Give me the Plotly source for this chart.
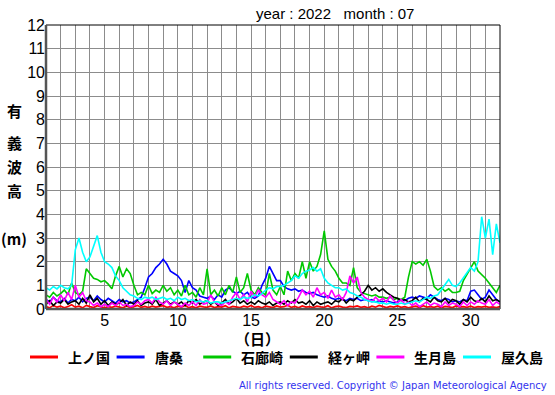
import plotly.graph_objects as go

# ---- data (6-hourly significant wave height, m), July 2022 ----
station_names = ["上ノ国", "唐桑", "石廊崎", "経ヶ岬", "生月島", "屋久島"]
station_colors = ["#ff0000", "#0000ff", "#00c800", "#000000", "#ff00ff", "#00ffff"]

kaminokuni = [
    0.10, 0.05, 0.15, 0.08, 0.12, 0.05, 0.10, 0.18, 0.08, 0.12, 0.05, 0.15,
    0.10, 0.06, 0.14, 0.08, 0.05, 0.10, 0.07, 0.12, 0.09, 0.05, 0.13, 0.06,
    0.10, 0.15, 0.07, 0.11, 0.06, 0.12, 0.08, 0.10, 0.14, 0.07, 0.10, 0.05,
    0.12, 0.08, 0.15, 0.06, 0.10, 0.05, 0.12, 0.09, 0.07, 0.13, 0.06, 0.10,
    0.08, 0.14, 0.05, 0.11, 0.09, 0.06, 0.12, 0.08, 0.15, 0.07, 0.10, 0.05,
    0.12, 0.09, 0.06, 0.13, 0.08, 0.10, 0.16, 0.07, 0.11, 0.05, 0.13, 0.08,
    0.10, 0.06, 0.12, 0.09, 0.07, 0.14, 0.05, 0.10, 0.12, 0.08, 0.06, 0.11,
    0.09, 0.13, 0.07, 0.10, 0.05, 0.12, 0.08, 0.15, 0.10, 0.06, 0.11, 0.08,
    0.13, 0.07, 0.10, 0.05, 0.09, 0.12, 0.06, 0.14, 0.08, 0.10, 0.07, 0.12,
    0.05, 0.11, 0.09, 0.06, 0.13, 0.08, 0.10, 0.07, 0.12, 0.06, 0.10, 0.08,
    0.11, 0.07, 0.09, 0.06, 0.10,
]
karakuwa = [
    0.40, 0.30, 0.50, 0.35,  0.30, 0.45, 0.25, 0.40,  0.35, 0.50, 0.30, 0.45,
    0.50, 0.35, 0.55, 0.40,  0.30, 0.45, 0.35, 0.25,  0.40, 0.30, 0.35, 0.25,
    0.30, 0.40, 0.50, 0.90,  1.35, 1.50, 1.75, 1.90,  2.10, 1.90, 1.60, 1.50,
    1.40, 1.20, 0.70, 1.20,  0.90, 0.80, 0.55, 0.50,  0.45, 0.55, 0.40, 0.60,
    0.50, 0.80, 0.90, 0.75,  0.65, 0.75, 0.60, 0.70,  0.50, 0.45, 0.55, 1.00,
    1.30, 1.80, 1.50, 1.20,  1.20, 0.95, 0.85, 0.80,  0.85, 0.75, 0.80, 0.70,
    0.65, 0.70, 0.60, 0.55,  0.50, 0.55, 0.45, 0.40,  0.45, 0.40, 0.35, 0.45,
    0.40, 0.45, 0.35, 0.40,  0.35, 0.40, 0.30, 0.35,  0.30, 0.35, 0.30, 0.25,
    0.30, 0.40, 0.35, 0.45,  0.50, 0.45, 0.55, 0.50,  0.45, 0.60, 0.50, 0.40,
    0.35, 0.45, 0.40, 0.30,  0.35, 0.30, 0.40, 0.35,  0.75, 0.80, 0.60, 0.40,
    0.50, 0.80, 0.60, 0.40,  0.30,
]
irozaki = [
    0.60, 0.50, 0.70, 0.55,  0.65, 0.80, 0.60, 1.10,  0.70, 0.60, 0.75, 1.70,
    1.50, 1.30, 1.25, 1.15,  1.20, 1.05, 0.85, 1.40,  1.80, 1.35, 1.70, 1.50,
    1.00, 0.60, 0.70, 0.60,  1.00, 0.65, 0.80, 0.70,  1.00, 0.75, 0.90, 0.60,
    0.80, 0.55, 1.00, 0.60,  0.70, 0.50, 0.90, 0.60,  1.70, 0.60, 0.80, 0.55,
    0.90, 0.60, 1.00, 0.70,  1.35, 0.70, 0.90, 1.50,  0.80, 0.60, 0.90, 0.70,
    0.60, 1.50, 0.80, 0.60,  0.95, 0.60, 1.60, 1.20,  1.50, 1.30, 2.00, 1.30,
    2.00, 1.60, 1.80, 2.30,  3.30, 2.10, 1.80, 1.60,  1.30, 1.10, 1.10, 1.00,
    1.75, 0.90, 0.70, 0.65,  0.60, 0.55, 0.60, 0.50,  0.50, 0.45, 0.50, 0.40,
    0.45, 0.40, 0.50, 1.35,  2.00, 1.90, 2.00, 1.85,  2.10, 1.60, 0.95, 0.80,
    0.90, 0.75, 0.85, 0.70,  0.70, 0.75, 1.20, 1.45,  1.75, 2.00, 1.60, 1.45,
    1.30, 1.10, 0.90, 0.70,  1.00,
]
kyogamisaki = [
    0.20, 0.35, 0.15, 0.30,  0.25, 0.40, 0.20, 0.30,  0.35, 0.20, 0.45, 0.25,
    0.60, 0.30, 0.45, 0.20,  0.35, 0.15, 0.30, 0.20,  0.25, 0.40, 0.15, 0.30,
    0.20, 0.35, 0.15, 0.25,  0.30, 0.20, 0.40, 0.15,  0.25, 0.35, 0.20, 0.30,
    0.20, 0.30, 0.15, 0.35,  0.25, 0.40, 0.20, 0.30,  0.35, 0.20, 0.30, 0.15,
    0.25, 0.40, 0.20, 0.30,  0.45, 0.25, 0.35, 0.20,  0.30, 0.20, 0.35, 0.25,
    0.20, 0.30, 0.15, 0.25,  0.30, 0.20, 0.35, 0.25,  0.40, 0.25, 0.30, 0.20,
    0.35, 0.15, 0.30, 0.20,  0.25, 0.30, 0.20, 0.35,  0.30, 0.45, 0.25, 0.40,
    0.35, 0.50, 0.60, 0.75,  1.00, 0.80, 0.90, 0.75,  0.85, 0.70, 0.60, 0.50,
    0.45, 0.35, 0.40, 0.30,  0.35, 0.50, 0.30, 0.45,  0.40, 0.30, 0.50, 0.35,
    0.30, 0.45, 0.25, 0.40,  0.35, 0.20, 0.40, 0.30,  0.50, 0.35, 0.30, 0.45,
    0.30, 0.55, 0.35, 0.40,  0.30,
]
ikitsukishima = [
    0.40, 0.20, 0.50, 0.30,  0.60, 0.35, 0.70, 0.40,  1.00, 0.50, 0.70, 0.35,
    0.30, 0.15, 0.25, 0.10,  0.20, 0.10, 0.25, 0.15,  0.30, 0.15, 0.20, 0.10,
    0.15, 0.30, 0.20, 0.35,  0.40, 0.25, 0.50, 0.30,  0.20, 0.35, 0.15, 0.30,
    0.20, 0.10, 0.25, 0.15,  0.30, 0.15, 0.40, 0.20,  0.25, 0.60, 0.30, 0.20,
    0.15, 0.30, 0.20, 0.50,  0.70, 0.40, 0.60, 0.30,  0.75, 0.50, 0.80, 0.60,
    0.50, 0.70, 0.40, 0.30,  0.20, 0.35, 0.15, 0.30,  0.25, 0.50, 0.80, 0.60,
    0.75, 0.50, 0.90, 0.60,  0.70, 0.45, 0.80, 0.50,  0.60, 0.40, 0.70, 1.40,
    1.10, 1.35, 0.70, 0.50,  0.40, 0.30, 0.50, 0.35,  0.45, 0.30, 0.55, 0.35,
    0.25, 0.40, 0.20, 0.30,  0.15, 0.25, 0.10, 0.20,  0.30, 0.15, 0.25, 0.20,
    0.10, 0.30, 0.15, 0.25,  0.20, 0.10, 0.30, 0.15,  0.30, 0.20, 0.35, 0.25,
    0.20, 0.40, 0.15, 0.30,  0.20,
]
yakushima = [
    0.90, 0.80, 0.95, 0.85,  1.00, 0.90, 0.85, 1.00,  2.50, 3.00, 2.40, 2.00,
    2.20, 2.70, 3.10, 2.40,  2.00, 1.90, 1.75, 1.40,  1.20, 0.90, 0.75, 0.60,
    0.55, 0.45, 0.40, 0.50,  0.45, 0.50, 0.40, 0.45,  0.50, 0.40, 0.45, 0.35,
    0.50, 0.40, 0.45, 0.35,  0.40, 0.30, 0.35, 0.30,  0.35, 0.25, 0.30, 0.30,
    0.25, 0.30, 0.35, 0.40,  0.45, 0.40, 0.50, 0.45,  0.50, 0.60, 0.55, 0.65,
    0.80, 0.90, 0.85, 0.95,  0.95, 1.00, 1.10, 1.20,  1.40, 1.30, 1.50, 1.60,
    1.65, 1.75, 1.60, 1.70,  1.30, 1.10, 1.00, 0.90,  0.90, 0.80, 0.85, 0.70,
    0.65, 0.55, 0.50, 0.40,  0.35, 0.30, 0.30, 0.25,  0.25, 0.20, 0.25, 0.20,
    0.20, 0.25, 0.20, 0.25,  0.30, 0.35, 0.30, 0.40,  0.50, 0.45, 0.55, 0.60,
    0.80, 1.00, 1.25, 1.00,  0.95, 1.10, 1.30, 1.50,  1.75, 1.60, 2.00, 3.90,
    3.00, 3.80, 2.30, 3.60,  2.80,
]

series_values = [kaminokuni, karakuwa, irozaki, kyogamisaki, ikitsukishima, yakushima]

x_tick_vals = [5, 10, 15, 20, 25, 30]
y_tick_vals = list(range(0, 13))
title_text = "year : 2022\u00a0\u00a0\u00a0month : 07"
y_label_chars = ["有", "義", "波", "高", "(m)"]
x_label = "（日）"
copyright_text = "All rights reserved. Copyright © Japan Meteorological Agency"

# ---- figure ----
W, H = 555, 395
L, R, T, B = 46, 55, 25, 86
PW, PH = W - L - R, H - T - B


def px(xp):
    return (xp - L) / PW


def py(yp):
    return (H - B - yp) / PH


fig = go.Figure()
for name, color, vals in zip(station_names, station_colors, series_values):
    xs = [1 + i * 0.25 for i in range(len(vals))]
    fig.add_trace(go.Scatter(x=xs, y=vals, mode="lines", name=name,
                             line=dict(color=color, width=1.6)))

grid = "#8c8c8c"
tickfont = dict(family="Liberation Sans, Arial, sans-serif", size=16, color="black")
fig.update_layout(
    width=W, height=H,
    margin=dict(l=L, r=R, t=T, b=B, autoexpand=False),
    paper_bgcolor="white", plot_bgcolor="white",
    showlegend=False,
    xaxis=dict(range=[1, 32], tickvals=x_tick_vals, showgrid=True, gridcolor=grid,
               gridwidth=1, zeroline=False, showline=False, ticks="",
               tickfont=tickfont, fixedrange=True, automargin=False,
               minor=dict(dtick=1, tick0=0, showgrid=True, gridcolor=grid, gridwidth=1)),
    yaxis=dict(range=[0, 12], tickvals=y_tick_vals, showgrid=True, gridcolor=grid,
               gridwidth=1, zeroline=False, showline=False, ticks="",
               tickfont=tickfont, fixedrange=True, automargin=False),
)

# frame
fig.add_shape(type="rect", xref="paper", yref="paper", x0=0, x1=1, y0=0, y1=1,
              line=dict(color="black", width=1), layer="above")
fig.add_shape(type="line", xref="paper", yref="paper", x0=0, x1=0, y0=0, y1=1,
              line=dict(color="#555555", width=2.5), layer="above")
fig.add_shape(type="line", xref="paper", yref="paper", x0=0, x1=1, y0=0, y1=0,
              line=dict(color="#555555", width=2.5), layer="above")

# title
fig.add_annotation(text=title_text, xref="paper", yref="paper", x=px(335), y=py(13),
                   xanchor="center", yanchor="middle", showarrow=False,
                   font=dict(family="Liberation Sans, Arial", size=15, color="black"))

# vertical y label
ypix = [110, 142, 166, 190, 238]
for ch, yp in zip(y_label_chars, ypix):
    fig.add_annotation(text=ch, xref="paper", yref="paper", x=px(14), y=py(yp),
                       xanchor="center", yanchor="middle", showarrow=False,
                       font=dict(family="Noto Sans CJK JP", size=15, color="black",
                                 weight="bold"))

# x label
fig.add_annotation(text=x_label, xref="paper", yref="paper", x=px(257), y=py(338),
                   xanchor="center", yanchor="middle", showarrow=False,
                   font=dict(family="Noto Sans CJK JP", size=15, color="black", weight="bold"))

# legend (drawn manually to keep the plot area fixed)
for i, (name, color) in enumerate(zip(station_names, station_colors)):
    x0 = 30 + i * 86.6
    fig.add_shape(type="line", xref="paper", yref="paper", x0=px(x0), x1=px(x0 + 28),
                  y0=py(357), y1=py(357), line=dict(color=color, width=3))
    fig.add_annotation(text=name, xref="paper", yref="paper", x=px(x0 + 36), y=py(357),
                       xanchor="left", yanchor="middle", showarrow=False,
                       font=dict(family="Noto Sans CJK JP", size=14, color="black",
                                 weight="bold"))

# copyright
fig.add_annotation(text=copyright_text, xref="paper", yref="paper", x=px(549), y=py(385),
                   xanchor="right", yanchor="middle", showarrow=False,
                   font=dict(family="DejaVu Sans", size=10, color="#3333ee"))

fig.write_html("out.html", config={"displayModeBar": False},
               post_script="document.body.style.margin='0';document.body.style.padding='0';")
